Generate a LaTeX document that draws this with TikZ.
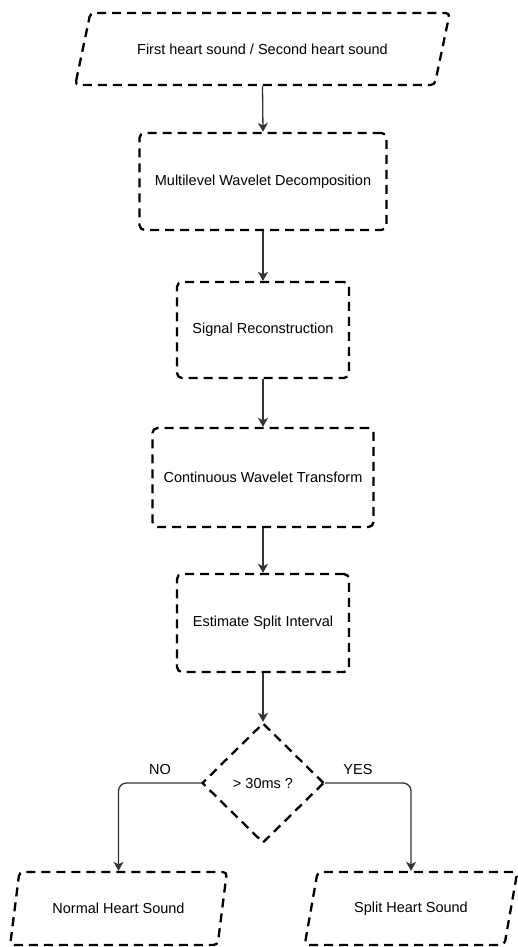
\documentclass[tikz,border=0pt]{standalone}
\usepackage{fontspec}
\setmainfont{Liberation Sans}
\usetikzlibrary{shapes.geometric,arrows.meta}
\begin{document}
\begin{tikzpicture}[x=1pt,y=-1pt,
  dbox/.style={draw=black, line width=2.3pt, dash pattern=on 9pt off 6pt,
    font=\fontsize{14.5}{17}\selectfont, inner sep=0pt, align=center},
  procbox/.style={dbox, rectangle, rounded corners=5pt},
  iobox/.style={dbox, trapezium, trapezium stretches=true, rounded corners=4pt},
  decbox/.style={dbox, diamond, minimum width=122pt, minimum height=120pt},
  conn/.style={draw=black!80, line width=1.3pt, -{Stealth[length=9pt,width=10pt,inset=2.5pt]}},
  lbl/.style={font=\fontsize{14.5}{17}\selectfont, inner sep=0pt}]
\useasboundingbox (0,0) rectangle (517,947);
\node[iobox, trapezium left angle=44, trapezium right angle=136,
  minimum width=375pt, minimum height=72pt] (src) at (262.5,49) {First heart sound / Second heart sound};
\node[procbox, minimum width=247pt, minimum height=97pt] (mwd) at (263,181.5) {Multilevel Wavelet Decomposition};
\node[procbox, minimum width=172pt, minimum height=96pt] (rec) at (263,330) {Signal Reconstruction};
\node[procbox, minimum width=221pt, minimum height=99pt] (cwt) at (263,477.5) {Continuous Wavelet Transform};
\node[procbox, minimum width=172pt, minimum height=98pt] (est) at (263,623) {Estimate Split Interval};
\node[decbox] (dec) at (263,783) {> 30ms ?};
\node[iobox, trapezium left angle=60, trapezium right angle=120,
  minimum width=217pt, minimum height=73pt] (nrm) at (118.5,908.5) {Normal Heart Sound};
\node[iobox, trapezium left angle=60, trapezium right angle=120,
  minimum width=213pt, minimum height=73pt] (spl) at (411,908.5) {Split Heart Sound};
\node[lbl] (no) at (160,769) {NO};
\node[lbl] (yes) at (358,769) {YES};
\draw[conn] (src.center |- src.south) -- (mwd.north);
\draw[conn] (mwd.south) -- (rec.north);
\draw[conn] (rec.south) -- (cwt.north);
\draw[conn] (cwt.south) -- (est.north);
\draw[conn] (est.south) -- (dec.north);
\draw[conn, rounded corners=8pt] (dec.west) -| (nrm.center |- nrm.north);
\draw[conn, rounded corners=8pt] (dec.east) -| (spl.center |- spl.north);
\end{tikzpicture}
\end{document}
